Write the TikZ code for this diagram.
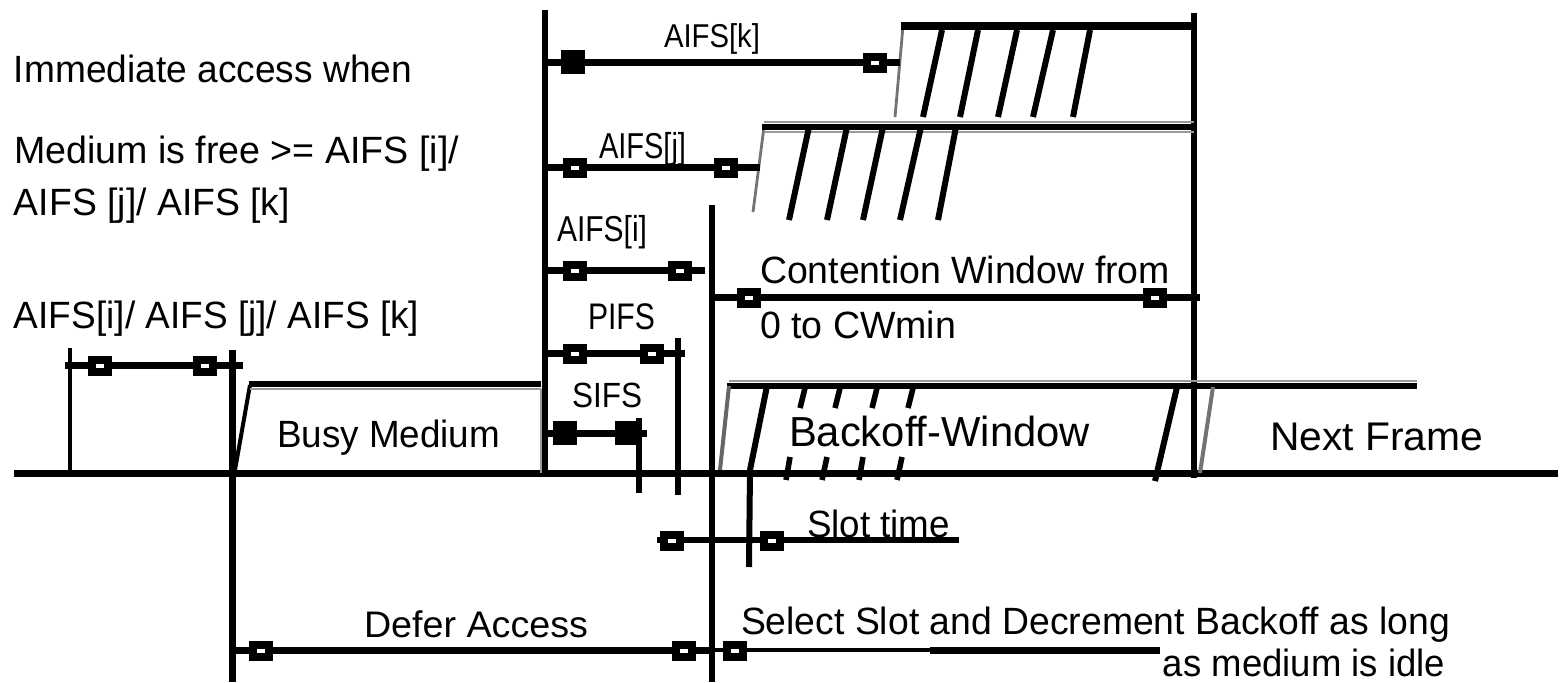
\documentclass[tikz,border=0pt]{standalone}
\usepackage{fontspec}
\usepackage{graphicx}
\setmainfont{Liberation Sans}
\newcommand{\fw}[3]{{\fontsize{#2}{#2}\selectfont\resizebox{#1pt}{\height}{#3}}}
\tikzset{
  axisline/.style={line width=3.5pt},
  vline/.style={line width=3.4pt},
  dimline/.style={line width=3.5pt},
  hatchline/.style={line width=3pt},
  grayline/.style={line width=1.4pt, black!40},
  lbl/.style={inner sep=0pt, outer sep=0pt, anchor=base west},
  openmark/.pic={\fill[black] (-12,-10) rectangle (12,10); \fill[white] (-4,-2.2) rectangle (4,2.2);},
  fullmark/.pic={\fill[black] (-12,-12) rectangle (12,12);}
}
\begin{document}
\begin{tikzpicture}[x=0.5pt,y=-0.5pt]
\useasboundingbox (0,0) rectangle (1563,682);
% ---------- key coordinates
\coordinate (axL) at (14,473);
\coordinate (axR) at (1558,473);
\coordinate (v70t) at (70,348);   \coordinate (v70b) at (70,473);
\coordinate (v232t) at (232,350); \coordinate (v232b) at (232,682);
\coordinate (v545t) at (545,10);  \coordinate (v545b) at (545,473);
\coordinate (v712t) at (712,205); \coordinate (v712b) at (712,682);
\coordinate (v1194t) at (1194,13); \coordinate (v1194b) at (1194,478);
\coordinate (pifsT) at (678,338); \coordinate (pifsB) at (678,495);
\coordinate (sifsT) at (639,418); \coordinate (sifsB) at (639,493);

% ---------- time axis and verticals
\draw[axisline] (axL) -- (axR);
\draw[line width=2pt] (v70t) -- (v70b);
\draw[line width=3.5pt] (v232t) -- (v232b);
\draw[vline] (v545t) -- (v545b);
\draw[vline] (v712t) -- (v712b);
\draw[vline] (v1194t) -- (v1194b);
\draw[line width=2.8pt] (pifsT) -- (pifsB);
\draw[line width=2.8pt] (sifsT) -- (sifsB);

% ---------- AIFS[k] window
\draw[grayline, black!55] (895,117) -- (903,26);
\draw[line width=4pt] (901,26) -- (1194,26);
\foreach \a/\b in {942/923,978/960,1017/998,1053/1033,1090/1073}
  \draw[hatchline] (\a,30) -- (\b,117);

% ---------- AIFS[j] window
\draw[grayline, black!55] (753,212) -- (764,127);
\draw[grayline] (764,122) -- (1194,122);
\draw[grayline] (764,132) -- (1194,132);
\draw[line width=3pt] (762,127) -- (1194,127);
\foreach \a/\b in {809/789,847/827,883/863,921/900,956/938}
  \draw[hatchline] (\a,127) -- (\b,220);

% ---------- Busy medium
\draw[line width=2pt] (235,470) -- (250,385);
\draw[grayline] (250,389) -- (541,389);
\draw[line width=3pt] (249,384) -- (541,384);
\draw[grayline] (541,389) -- (541,473);

% ---------- Backoff window and next frame
\draw[grayline] (729,381) -- (1417,381);
\draw[line width=3pt] (727,386) -- (1417,386);
\draw[line width=2pt, black!60] (720,470) -- (729,386);
\draw[hatchline] (767,386) -- (750,470) -- (749,567);
\foreach \a/\b in {805/800,840/835,877/872,913/908}
  \draw[line width=2.8pt] (\a,388) -- (\b,408);
\foreach \a/\b in {790/786,827/822,863/859,902/897}
  \draw[line width=2.8pt] (\a,457) -- (\b,480);
\draw[hatchline] (1177,387) -- (1155,481);
\draw[line width=2pt, black!55] (1213,387) -- (1200,473);

% ---------- dimension lines
\coordinate (lA) at (65,365);  \coordinate (lB) at (243,365);
\draw[dimline] (lA) -- (lB);
\pic at (100,366) {openmark}; \pic at (205,366) {openmark};

\coordinate (kA) at (545,62); \coordinate (kB) at (900,62);
\draw[dimline] (kA) -- (kB);
\pic at (573,62) {fullmark}; \pic at (875,63) {openmark};

\coordinate (jA) at (545,167); \coordinate (jB) at (760,167);
\draw[dimline] (jA) -- (jB);
\pic at (575,168) {openmark}; \pic at (726,168) {openmark};

\coordinate (iA) at (545,270); \coordinate (iB) at (705,270);
\draw[dimline] (iA) -- (iB);
\pic at (575,271) {openmark}; \pic at (680,271) {openmark};

\coordinate (pA) at (545,353); \coordinate (pB) at (685,353);
\draw[dimline] (pA) -- (pB);
\pic at (575,354) {openmark}; \pic at (652,354) {openmark};

\coordinate (sA) at (545,433); \coordinate (sB) at (647,433);
\draw[dimline] (sA) -- (sB);
\pic at (565,433) {fullmark}; \pic at (627,433) {fullmark};

\coordinate (cA) at (715,297); \coordinate (cB) at (1200,297);
\draw[dimline] (cA) -- (cB);
\pic at (749,298) {openmark}; \pic at (1155,298) {openmark};

\coordinate (tA) at (657,540); \coordinate (tB) at (959,540);
\draw[line width=2.8pt] (tA) -- (tB);
\pic at (672,541) {openmark}; \pic at (772,541) {openmark};

\coordinate (dA) at (232,650); \coordinate (dB) at (712,650);
\draw[dimline] (dA) -- (dB);
\pic at (261,651) {openmark}; \pic at (684,651) {openmark};

\coordinate (eA) at (712,650); \coordinate (eM) at (930,650); \coordinate (eB) at (1160,650);
\draw[line width=2.4pt] (eA) -- (eM);
\draw[line width=3.5pt] (eM) -- (eB);
\pic at (735,651) {openmark};

% ---------- texts
\node[lbl] (t1) at (14,82) {\fw{199}{19}{Immediate access when}};
\node[lbl] (t2) at (14,163) {\fw{222.5}{19}{Medium is free >= AIFS [i]/}};
\node[lbl] (t3) at (14,215) {\fw{138}{19}{AIFS [j]/ AIFS [k]}};
\node[lbl] (t4) at (14,328) {\fw{202.5}{19}{AIFS[i]/ AIFS [j]/ AIFS [k]}};
\node[lbl] (tk) at (664,47) {\fw{48}{16.5}{AIFS[k]}};
\node[lbl] (tj) at (599,158) {\fw{43.5}{18}{AIFS[j]}};
\node[lbl] (ti) at (557,241) {\fw{45}{18}{AIFS[i]}};
\node[lbl] (tp) at (588,329) {\fw{33.5}{18.5}{PIFS}};
\node[lbl] (ts) at (572,407) {\fw{35}{17.5}{SIFS}};
\node[lbl] (tc1) at (760,283) {\fw{205}{19}{Contention Window from}};
\node[lbl] (tc2) at (760,338) {\fw{98}{19}{0 to CWmin}};
\node[lbl] (tbusy) at (277,447) {\fw{111.5}{19}{Busy Medium}};
\node[lbl] (tback) at (789,446) {\fw{150.5}{21}{Backoff-Window}};
\node[lbl] (tnext) at (1270,450) {\fw{106.5}{20}{Next Frame}};
\node[lbl] (tslot) at (807,537) {\fw{71.5}{19}{Slot time}};
\node[lbl] (tdef) at (364,637) {\fw{112}{18.5}{Defer Access}};
\node[lbl] (tsel1) at (741,634) {\fw{354.5}{19}{Select Slot and Decrement Backoff as long}};
\node[lbl, anchor=base east] (tsel2) at (1445,676) {\fw{141}{19}{as medium is idle}};
\end{tikzpicture}
\end{document}
